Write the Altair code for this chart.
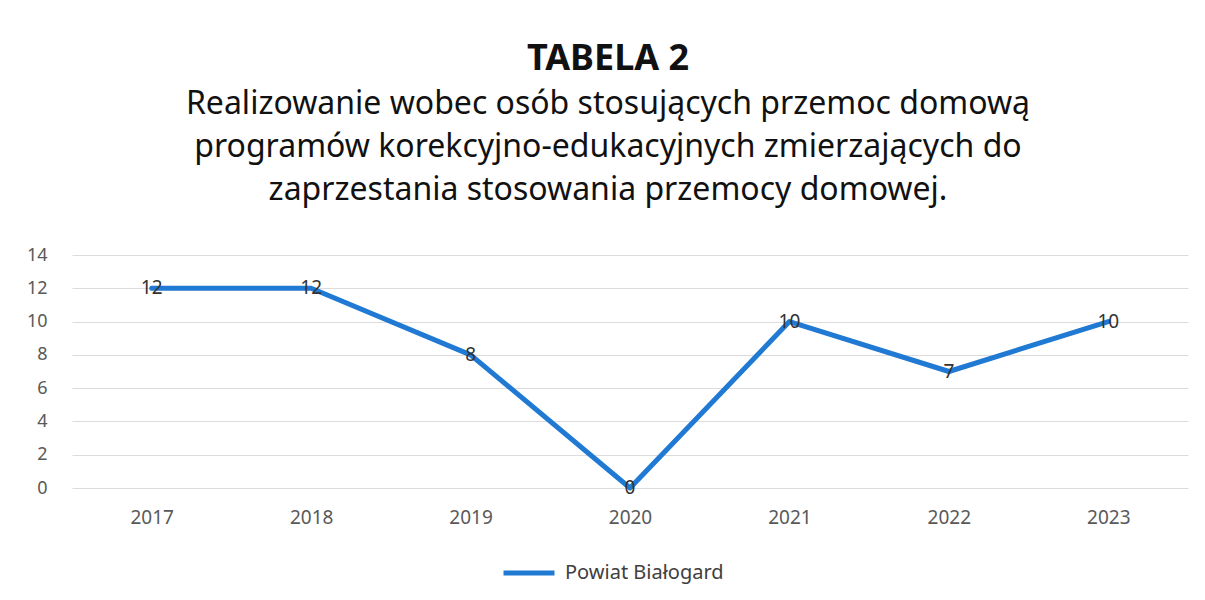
import altair as alt
import pandas as pd

years = ["2017", "2018", "2019", "2020", "2021", "2022", "2023"]
values = [12, 12, 8, 0, 10, 7, 10]
series = ["Powiat Białogard"] * len(years)

title_text = "TABELA 2"
subtitle_lines = [
    "Realizowanie wobec osób stosujących przemoc domową",
    "programów korekcyjno-edukacyjnych zmierzających do",
    "zaprzestania stosowania przemocy domowej.",
]
y_ticks = [0, 2, 4, 6, 8, 10, 12, 14]

df = pd.DataFrame({"year": years, "value": values, "series": series})

FONT = "Noto Sans"
BLUE = "#2079d2"

x = alt.X("year:N", sort=years, title=None,
          scale=alt.Scale(type="point", padding=0.5),
          axis=alt.Axis(labelAngle=0, domain=False, ticks=False, grid=False,
                        labelFontSize=19, labelColor="#595959", labelFont=FONT,
                        labelPadding=20))
y = alt.Y("value:Q", title=None,
          scale=alt.Scale(domain=[0, 14], nice=False),
          axis=alt.Axis(values=y_ticks, domain=False, ticks=False,
                        gridColor="#dcdcdc", gridWidth=1,
                        labelFontSize=18, labelColor="#595959", labelFont=FONT,
                        labelPadding=25))

base = alt.Chart(df).encode(x=x, y=y)

line = base.mark_line(strokeWidth=5, strokeCap="round", strokeJoin="round").encode(
    color=alt.Color("series:N", scale=alt.Scale(range=[BLUE]),
                    legend=alt.Legend(title=None, orient="none", legendX=429, legendY=290,
                                      symbolType="stroke",
                                      symbolStrokeWidth=5, symbolSize=2600,
                                      labelFontSize=20, labelFont=FONT, labelColor="#404040",
                                      labelOffset=8)),
)

labels = base.mark_text(fontSize=19, font=FONT, color="#333333",
                        align="center", baseline="middle").encode(text="value:Q")

chart = alt.layer(line, labels).properties(
    width=1116, height=233,
    background="white",
    autosize=alt.AutoSizeParams(type="none"),
    padding={"left": 64, "top": 247, "right": 9, "bottom": 100},
    title=alt.TitleParams(
        text=title_text, subtitle=subtitle_lines,
        anchor="middle", dx=-22, offset=39,
        font=FONT, fontSize=36, fontWeight="bold", color="#111111",
        subtitleFont=FONT, subtitleFontSize=32, subtitleColor="#111111",
        subtitleLineHeight=43, subtitlePadding=11,
    ),
).configure_view(stroke=None, strokeWidth=0)

chart.save("out.html", embed_options={"renderer": "svg", "actions": False})
